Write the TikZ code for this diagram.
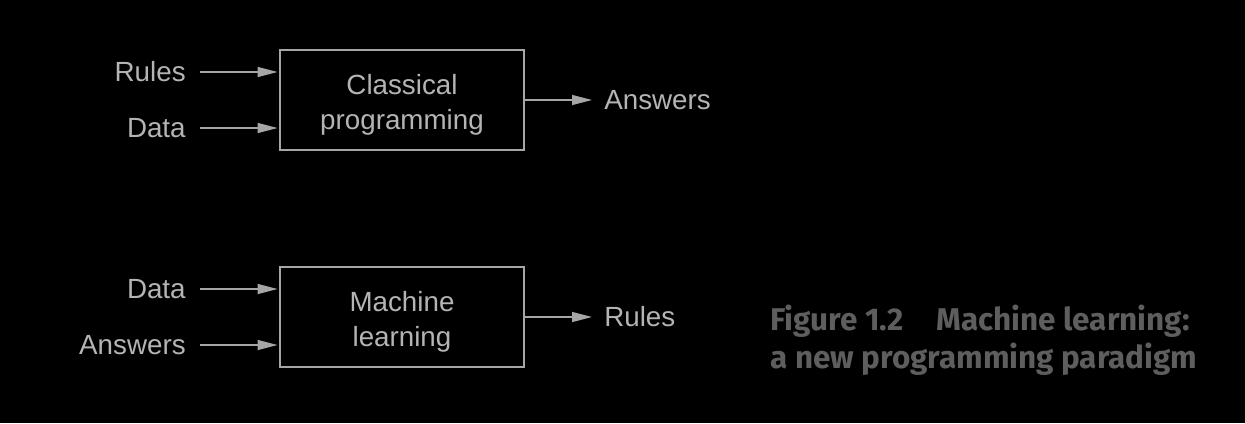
\documentclass[tikz,border=0pt]{standalone}
\usepackage{fontspec}
\setmainfont{Liberation Sans}
\newfontfamily\capfont{Fira Sans}
\usetikzlibrary{arrows.meta,positioning}
\definecolor{mlBg}{HTML}{000000}
\definecolor{mlText}{HTML}{B4B4B4}
\definecolor{mlLine}{HTML}{A6A6A6}
\definecolor{mlCap}{HTML}{5E5E5E}
\newcommand{\boxstrut}{\rule{0pt}{1.05em}}
\tikzset{
  arr/.style={-{Triangle[length=4mm,width=2mm]}, line width=0.8pt, draw=mlLine},
  procbox/.style={draw=mlLine, line width=0.8pt, align=center, minimum width=4.88cm, minimum height=2cm, text=mlText, font=\fontsize{15.8}{19.8}\selectfont},
  io/.style={text=mlText, font=\fontsize{15.8}{19}\selectfont, inner sep=0pt},
  caption/.style={text=mlCap, align=left, font=\capfont\bfseries\fontsize{17.9}{21.5}\selectfont, inner sep=0pt}
}
\begin{document}
\begin{tikzpicture}[x=0.02cm,y=-0.02cm]
  \fill[mlBg] (0,0) rectangle (1245,423);
  \useasboundingbox (0,0) rectangle (1245,423);
  % classical programming
  \node[procbox] (classic) at (402,100) {\boxstrut Classical\\programming};
  \node[io, anchor=east] (rulesIn) at (186,72) {Rules};
  \node[io, anchor=east] (dataIn) at (186,128) {Data};
  \node[io, anchor=west] (answersOut) at (604,100) {Answers};
  \draw[arr] ([xshift=0.28cm]rulesIn.east) -- ([xshift=-1pt]rulesIn.east -| classic.west);
  \draw[arr] ([xshift=0.28cm]dataIn.east) -- ([xshift=-1pt]dataIn.east -| classic.west);
  \draw[arr] (classic.east) -- ([xshift=-0.24cm]answersOut.west);
  % machine learning
  \node[procbox] (learn) at (402,317) {\boxstrut Machine\\learning};
  \node[io, anchor=east] (dataIn2) at (186,289) {Data};
  \node[io, anchor=east] (answersIn) at (186,345) {Answers};
  \node[io, anchor=west] (rulesOut) at (604,317) {Rules};
  \draw[arr] ([xshift=0.28cm]dataIn2.east) -- ([xshift=-1pt]dataIn2.east -| learn.west);
  \draw[arr] ([xshift=0.28cm]answersIn.east) -- ([xshift=-1pt]answersIn.east -| learn.west);
  \draw[arr] (learn.east) -- ([xshift=-0.24cm]rulesOut.west);
  % caption
  \node[caption, anchor=north west] (figcap) at (770,305) {Figure 1.2\hspace{1.05em}Machine learning:\\a new programming paradigm};
\end{tikzpicture}
\end{document}
